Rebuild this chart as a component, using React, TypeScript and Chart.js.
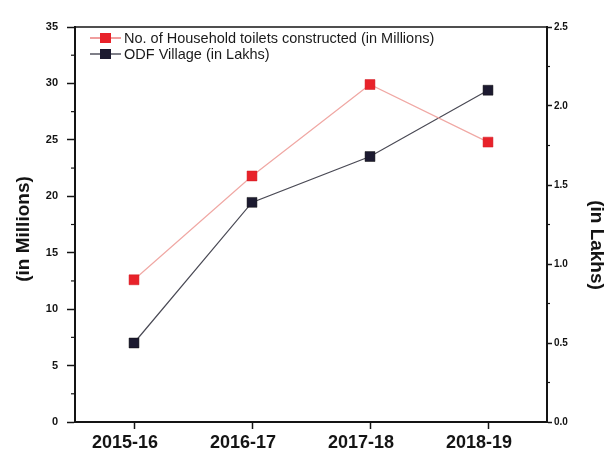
import { useEffect, useRef } from 'react';
import { Chart, registerables } from 'chart.js';

Chart.register(...registerables);

const categories = ['2015-16', '2016-17', '2017-18', '2018-19'];
const toiletsMillions = [12.6, 21.8, 29.9, 24.8];
const odfVillagesLakhs = [0.5, 1.39, 1.68, 2.1];
const leftAxisTitle = '(in Millions)';
const rightAxisTitle = '(in Lakhs)';
const toiletsLabel = 'No. of Household toilets constructed (in Millions)';
const odfLabel = 'ODF Village (in Lakhs)';
const leftMax = 35;
const leftStep = 5;
const rightMax = 2.5;
const rightStep = 0.5;

const FONT = "'Liberation Sans', Arial, sans-serif";
const INK = '#141414';

const framePlugin = {
  id: 'frameAndMinor',
  afterDraw(chart: any) {
    const { ctx, chartArea } = chart;
    const yl = chart.scales.y;
    const yr = chart.scales.y1;
    ctx.save();
    ctx.strokeStyle = INK;
    // top border
    ctx.lineWidth = 1.6;
    ctx.beginPath();
    ctx.moveTo(chartArea.left, chartArea.top);
    ctx.lineTo(chartArea.right, chartArea.top);
    ctx.stroke();
    // minor ticks
    ctx.lineWidth = 1.2;
    for (let v = leftStep / 2; v < leftMax; v += leftStep) {
      const py = yl.getPixelForValue(v);
      ctx.beginPath();
      ctx.moveTo(chartArea.left - 4, py);
      ctx.lineTo(chartArea.left, py);
      ctx.stroke();
    }
    for (let v = rightStep / 2; v < rightMax; v += rightStep) {
      const py = yr.getPixelForValue(v);
      ctx.beginPath();
      ctx.moveTo(chartArea.right, py);
      ctx.lineTo(chartArea.right + 3, py);
      ctx.stroke();
    }
    // axis titles
    ctx.fillStyle = INK;
    ctx.font = `bold 19px ${FONT}`;
    ctx.textAlign = 'center';
    ctx.textBaseline = 'middle';
    ctx.save();
    ctx.translate(24, 229);
    ctx.rotate(-Math.PI / 2);
    ctx.fillText(leftAxisTitle, 0, 0);
    ctx.restore();
    ctx.save();
    ctx.translate(596, 245);
    ctx.rotate(Math.PI / 2);
    ctx.fillText(rightAxisTitle, 0, 0);
    ctx.restore();
    // legend
    const entries = chart.data.datasets.map((d: any) => ({
      label: d.label,
      line: d.borderColor,
      fill: d.pointBackgroundColor,
    }));
    const lx = 90;
    const ys = [38, 54];
    ctx.font = `14.5px ${FONT}`;
    ctx.textBaseline = 'middle';
    ctx.textAlign = 'left';
    entries.forEach((e: any, i: number) => {
      const y = ys[i];
      ctx.strokeStyle = i === 0 ? '#e86a6a' : '#3a3a48';
      ctx.lineWidth = 1.3;
      ctx.beginPath();
      ctx.moveTo(lx, y);
      ctx.lineTo(lx + 31, y);
      ctx.stroke();
      ctx.fillStyle = e.fill;
      ctx.fillRect(lx + 10, y - 5, 11, 10);
      ctx.fillStyle = '#1a1a1a';
      ctx.fillText(e.label, lx + 34, y + 1);
    });
    ctx.restore();
  },
};

export default function App() {
  const ref = useRef<HTMLCanvasElement>(null);
  useEffect(() => {
    document.body.style.margin = '0';
    const chart = new Chart(ref.current!, {
      type: 'line',
      data: {
        labels: categories,
        datasets: [
          {
            label: toiletsLabel,
            data: toiletsMillions,
            yAxisID: 'y',
            borderColor: '#f0a8a4',
            borderWidth: 1.2,
            pointStyle: 'rect',
            pointRadius: 7,
            pointBackgroundColor: '#e8222a',
            pointBorderColor: '#d01820',
            pointBorderWidth: 0.5,
          },
          {
            label: odfLabel,
            data: odfVillagesLakhs,
            yAxisID: 'y1',
            borderColor: '#4a4a55',
            borderWidth: 1.2,
            pointStyle: 'rect',
            pointRadius: 7,
            pointBackgroundColor: '#1c1a30',
            pointBorderColor: '#111',
            pointBorderWidth: 0.5,
          },
        ],
      },
      options: {
        responsive: false,
        animation: false,
        layout: { padding: { top: 27, left: 0, right: 0, bottom: 0 } },
        plugins: {
          legend: { display: false },
          tooltip: { enabled: false },
        },
        scales: {
          x: {
            offset: true,
            grid: {
              display: true,
              offset: false,
              drawOnChartArea: false,
              drawTicks: true,
              tickLength: 7,
              tickWidth: 1.5,
              tickColor: INK,
            },
            border: { display: true, color: INK, width: 2 },
            ticks: {
              color: INK,
              font: { family: FONT, size: 18, weight: 'bold' },
              padding: 3,
              labelOffset: -9,
              maxRotation: 0,
            },
            afterFit(scale: any) {
              scale.height = 35;
            },
          },
          y: {
            position: 'left',
            min: 0,
            max: leftMax,
            grid: {
              display: true,
              drawOnChartArea: false,
              drawTicks: true,
              tickLength: 8,
              tickWidth: 1.5,
              tickColor: INK,
            },
            border: { display: true, color: INK, width: 2 },
            ticks: {
              stepSize: leftStep,
              color: INK,
              font: { family: FONT, size: 11, weight: 'bold' },
              padding: 9,
            },
            afterFit(scale: any) {
              scale.width = 75;
            },
          },
          y1: {
            position: 'right',
            min: 0,
            max: rightMax,
            grid: {
              display: true,
              drawOnChartArea: false,
              drawTicks: true,
              tickLength: 5,
              tickWidth: 1.5,
              tickColor: INK,
            },
            border: { display: true, color: INK, width: 2 },
            ticks: {
              stepSize: rightStep,
              color: INK,
              font: { family: FONT, size: 10, weight: 'bold' },
              padding: 2,
              callback: (v: any) => Number(v).toFixed(1),
            },
            afterFit(scale: any) {
              scale.width = 62;
            },
          },
        },
      },
      plugins: [framePlugin],
    } as any);
    return () => chart.destroy();
  }, []);
  return (
    <div style={{ position: 'absolute', left: 0, top: 0, width: 609, height: 457, background: '#fff' }}>
      <canvas ref={ref} width={609} height={457} style={{ display: 'block' }} />
    </div>
  );
}
